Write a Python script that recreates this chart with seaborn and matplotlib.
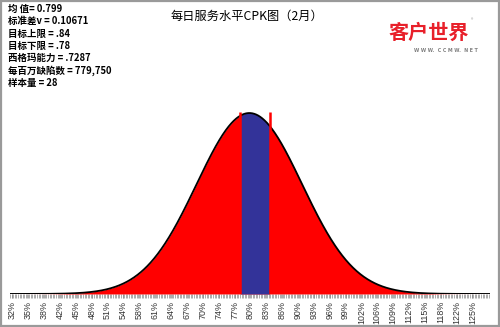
import numpy as np
import pandas as pd
import matplotlib
matplotlib.use("Agg")
import matplotlib.pyplot as plt
import seaborn as sns
from matplotlib.patches import Rectangle

# ---- data ----
mean = 0.799
std_dev = 0.10671
upper_limit = 0.84
lower_limit = 0.78
sigma_capability = 0.7287
dpmo = "779,750"
sample_size = 28
tick_labels = ["32%", "35%", "38%", "42%", "45%", "48%", "51%", "54%", "58%", "61%",
               "64%", "67%", "70%", "74%", "77%", "80%", "83%", "86%", "90%", "93%",
               "96%", "99%", "102%", "106%", "109%", "112%", "115%", "118%", "122%", "125%"]
tick_first = 0.32
tick_last = 1.25
stats_lines = ["均 值= 0.799", "标准差v = 0.10671", "目标上限 = .84", "目标下限 = .78",
               "西格玛能力 = .7287", "每百万缺陷数 = 779,750", "样本量 = 28"]
title = "每日服务水平CPK图（2月）"

sns.set_theme(style="white")
plt.rcParams['font.family'] = ['Noto Sans CJK SC', 'DejaVu Sans']

fig = plt.figure(figsize=(5.0, 3.27), dpi=100)
fig.patch.set_facecolor("white")
ax = fig.add_axes([0.02, 0.101, 0.96, 0.749])

xmin, xmax = 0.315, 1.2856
x = np.linspace(xmin, xmax, 1200)
pdf = np.exp(-0.5 * ((x - mean) / std_dev) ** 2) / (std_dev * np.sqrt(2 * np.pi))
df = pd.DataFrame({"x": x, "pdf": pdf})

ax.fill_between(df["x"], 0, df["pdf"], color="#FF0000", linewidth=0, zorder=1)
mid = (df["x"] >= lower_limit) & (df["x"] <= upper_limit)
ax.fill_between(df["x"][mid], 0, df["pdf"][mid], color="#333399", linewidth=0, zorder=2)
sns.lineplot(data=df, x="x", y="pdf", color="black", linewidth=1.3, ax=ax, zorder=3)

peak = 1 / (std_dev * np.sqrt(2 * np.pi))
for lim in (lower_limit, upper_limit):
    ax.vlines(lim, 0, peak * 1.005, color="#FF0000", linewidth=1.8, zorder=4)

ax.set_xlim(xmin, xmax)
ax.set_ylim(0, peak * 245 / 181)
for s in ax.spines.values():
    s.set_visible(False)
ax.set_xlabel("")
ax.set_ylabel("")
ax.set_yticks([])

ticks = np.linspace(tick_first, tick_last, len(tick_labels))
ax.set_xticks(ticks)
ax.set_xticklabels(tick_labels, rotation=90, fontsize=6.4, color="#333333",
                   family=["Liberation Sans", "DejaVu Sans"])
step = (tick_last - tick_first) / (len(tick_labels) - 1)
minor = np.arange(xmin, xmax, step / 10)
ax.set_xticks(minor, minor=True)
ax.tick_params(axis="x", which="both", direction="out", length=3, width=0.5,
               color="#8a8a8a", pad=2, bottom=True)

# stats text block
for i, line in enumerate(stats_lines):
    fig.text(8 / 500, 1 - (9 + i * 12.3) / 327, line, fontsize=6.8, fontweight="bold",
             ha="left", va="center", color="black")

# title
fig.text(247 / 500, 1 - 16 / 327, title, fontsize=8.8, ha="center", va="center", color="black")

# logo
fig.text(429 / 500, 1 - 32 / 327, "客户世界", fontsize=14.5, fontweight="bold", ha="center",
         va="center", color="#E8202A")
fig.text(472 / 500, 1 - 21 / 327, "®", fontsize=3.5, ha="center", va="center", color="#999999")
fig.text(446 / 500, 1 - 50 / 327, "W W W.  C C M W.  N E T", fontsize=3.4, ha="center",
         va="center", color="#808080", fontweight="bold", family=["DejaVu Sans"])

# border around image
fig.patches.append(Rectangle((0.002, 0.003), 0.996, 0.994, transform=fig.transFigure,
                             fill=False, edgecolor="#9a9a9a", linewidth=1.6))

fig.savefig("out.png", dpi=100, facecolor="white")
